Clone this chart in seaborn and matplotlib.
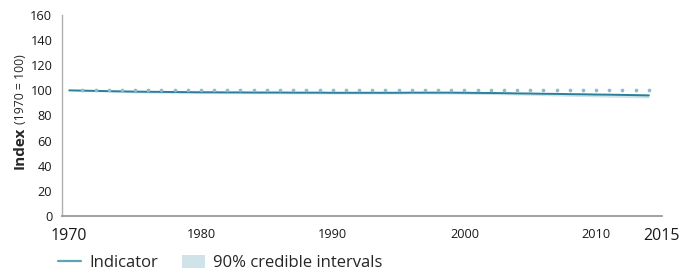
import matplotlib
matplotlib.use('Agg')
import matplotlib.pyplot as plt
import seaborn as sns
import pandas as pd
from matplotlib.lines import Line2D
from matplotlib.patches import Patch

# Index values (1970 = 100)
years = list(range(1970, 2015))
indicator = [100.0, 99.8, 99.6, 99.4, 99.2, 99.0, 98.9, 98.8, 98.7, 98.6,
             98.5, 98.5, 98.4, 98.4, 98.3, 98.3, 98.3, 98.2, 98.2, 98.2,
             98.1, 98.1, 98.1, 98.1, 98.1, 98.1, 98.2, 98.2, 98.2, 98.2,
             98.1, 98.0, 97.9, 97.8, 97.6, 97.5, 97.3, 97.2, 97.0, 96.9,
             96.7, 96.6, 96.4, 96.2, 96.0]
lower_ci = [100.0, 99.3, 98.9, 98.6, 98.3, 98.0, 97.9, 97.8, 97.7, 97.6,
            97.5, 97.5, 97.4, 97.4, 97.3, 97.3, 97.3, 97.2, 97.2, 97.2,
            97.1, 97.1, 97.1, 97.1, 97.1, 97.1, 97.2, 97.2, 97.1, 97.1,
            97.0, 96.8, 96.7, 96.5, 96.3, 96.1, 95.8, 95.6, 95.3, 95.1,
            94.8, 94.6, 94.4, 94.2, 94.0]
upper_ci = [100.0, 100.1, 99.9, 99.8, 99.6, 99.4, 99.3, 99.2, 99.1, 99.0,
            98.9, 98.9, 98.8, 98.8, 98.7, 98.7, 98.7, 98.6, 98.6, 98.6,
            98.5, 98.5, 98.5, 98.5, 98.5, 98.5, 98.6, 98.6, 98.6, 98.6,
            98.6, 98.5, 98.4, 98.4, 98.2, 98.1, 98.0, 97.9, 97.7, 97.6,
            97.5, 97.4, 97.2, 97.1, 97.0]
baseline_years = list(range(1971, 2015))
baseline = [100] * len(baseline_years)

x_tick_years = [1970, 1980, 1990, 2000, 2010, 2015]
x_tick_labels = ['1970', '1980', '1990', '2000', '2010', '2015']
x_minor_years = [1975, 1985, 1995, 2005]
y_ticks = [0, 20, 40, 60, 80, 100, 120, 140, 160]

df = pd.DataFrame({'Year': years, 'Index': indicator})
base_df = pd.DataFrame({'Year': baseline_years, 'Index': baseline})

sns.set_style('white')
plt.rcParams['font.family'] = ['Open Sans', 'DejaVu Sans']

line_color = '#2a7f9b'
band_color = '#cfe3e8'
axis_color = '#9a9a9a'

fig = plt.figure(figsize=(6.94, 2.73), dpi=100)
ax = fig.add_axes([62 / 694, 57 / 273, 600 / 694, 201 / 273])

ax.fill_between(years, lower_ci, upper_ci, color=band_color, linewidth=0, zorder=1)
sns.lineplot(data=df, x='Year', y='Index', color=line_color, linewidth=1.4, ax=ax, zorder=3)
sns.scatterplot(data=base_df, x='Year', y='Index', color='#8bbccb', s=7,
                linewidth=0, ax=ax, zorder=4)

ax.set_xlim(1969.45, 2015)
ax.set_ylim(0, 160)
ax.set_xlabel('')
ax.set_ylabel('')

# Axes styling
for side in ['top', 'right']:
    ax.spines[side].set_visible(False)
ax.spines['left'].set_color('#b0b0b0')
ax.spines['left'].set_linewidth(1.0)
ax.spines['bottom'].set_color(axis_color)
ax.spines['bottom'].set_linewidth(1.3)

ax.set_yticks(y_ticks)
ax.set_yticklabels([str(v) for v in y_ticks], fontsize=9.2)
ax.tick_params(axis='y', length=0, pad=7, labelcolor='#1a1a1a')

ax.set_xticks(x_tick_years)
ax.set_xticklabels(x_tick_labels, fontsize=9.2)
ax.set_xticks(x_minor_years, minor=True)
ax.tick_params(axis='x', which='both', direction='in', length=5, width=1.0,
               color=axis_color, pad=9, labelcolor='#1a1a1a')
for t, yr in zip(ax.xaxis.get_major_ticks(), x_tick_years):
    if yr == 1970:
        t.tick1line.set_markersize(0)
    if yr == 2015:
        t.tick1line.set_markersize(11)
    if yr in (1970, 2015):
        t.label1.set_fontsize(11.5)

# Y axis label: bold "Index" followed by smaller note
fig.text(20 / 694, 1 - 169 / 273, 'Index', rotation=90, fontsize=11,
         fontweight='bold', ha='center', va='bottom')
fig.text(21 / 694, 1 - 124 / 273, '(1970 = 100)', rotation=90, fontsize=8.8,
         ha='center', va='bottom')

handles = [Line2D([0], [0], color='#5fa3b5', linewidth=1.6),
           Patch(facecolor=band_color, edgecolor='none')]
fig.legend(handles, ['Indicator', '90% credible intervals'], loc='center left',
           bbox_to_anchor=(58 / 694, 10 / 273), ncol=2, frameon=False,
           fontsize=12, handlelength=1.4, handleheight=0.8,
           handletextpad=0.5, columnspacing=1.4, borderpad=0, borderaxespad=0)

fig.savefig('out.png', dpi=100)
